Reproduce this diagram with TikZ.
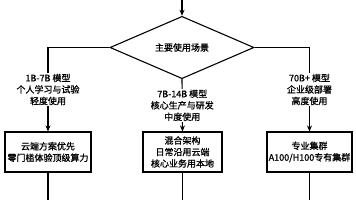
\documentclass[tikz,border=0pt]{standalone}
\usepackage{fontspec}
\newfontfamily\cjk[FakeBold=1]{Noto Sans CJK SC}
\usetikzlibrary{arrows.meta, shapes.geometric, positioning}

\begin{document}
\begin{tikzpicture}[
    x=1pt, y=-1pt,
    % Defining global styles for our nodes
    every node/.style={
        font=\cjk\fontsize{9}{11.5}\selectfont,
        align=center
    },
    decision/.style={
        diamond,
        draw=black,
        line width=1.1pt,
        minimum width=144pt,
        minimum height=51pt,
        inner sep=0pt
    },
    block/.style={
        rectangle,
        draw=black,
        line width=1.1pt,
        minimum height=40pt,
        inner sep=1pt
    },
    tag/.style={
        fill=white,
        inner sep=1pt
    },
    % Defining style for our edges
    edge style/.style={
        draw=black,
        line width=1.1pt
    },
    arrow/.style={
        edge style,
        -{Stealth[length=6pt,width=5pt]}
    }
]
    \useasboundingbox (0,0) rectangle (356,200);

    % Decision and the three outcomes
    \node[decision] (scene) at (182,47.5) {主要使用场景};
    \node[block, minimum width=86pt] (cloud) at (48,152) {云端方案优先\\零门槛体验顶级算力};
    \node[block, minimum width=79pt] (hybrid) at (182.5,152) {混合架构\\日常沿用云端\\核心业务用本地};
    \node[block, minimum width=85pt] (cluster) at (309.5,152) {专业集群\\A100/H100专有集群};

    % Loose ends of the connectors
    \coordinate (top) at (182,0);
    \coordinate (end1) at (48,200);
    \coordinate (end2) at (182.5,200);
    \coordinate (end3) at (309.5,200);

    \begin{scope}[edge style]
        \draw[arrow] (top) -- (scene.north);
        \draw[arrow] (scene.west) -| node[tag, pos=0.75] (small) {1B-7B 模型\\个人学习与试验\\轻度使用} (cloud.north);
        \draw[arrow] (scene.south) -- node[tag] (medium) {7B-14B 模型\\核心生产与研发\\中度使用} (hybrid.north);
        \draw[arrow] (scene.east) -| node[tag, pos=0.75] (large) {70B+ 模型\\企业级部署\\高度使用} (cluster.north);

        \draw (cloud) -- (end1);
        \draw (hybrid) -- (end2);
        \draw (cluster) -- (end3);
    \end{scope}

\end{tikzpicture}
\end{document}
